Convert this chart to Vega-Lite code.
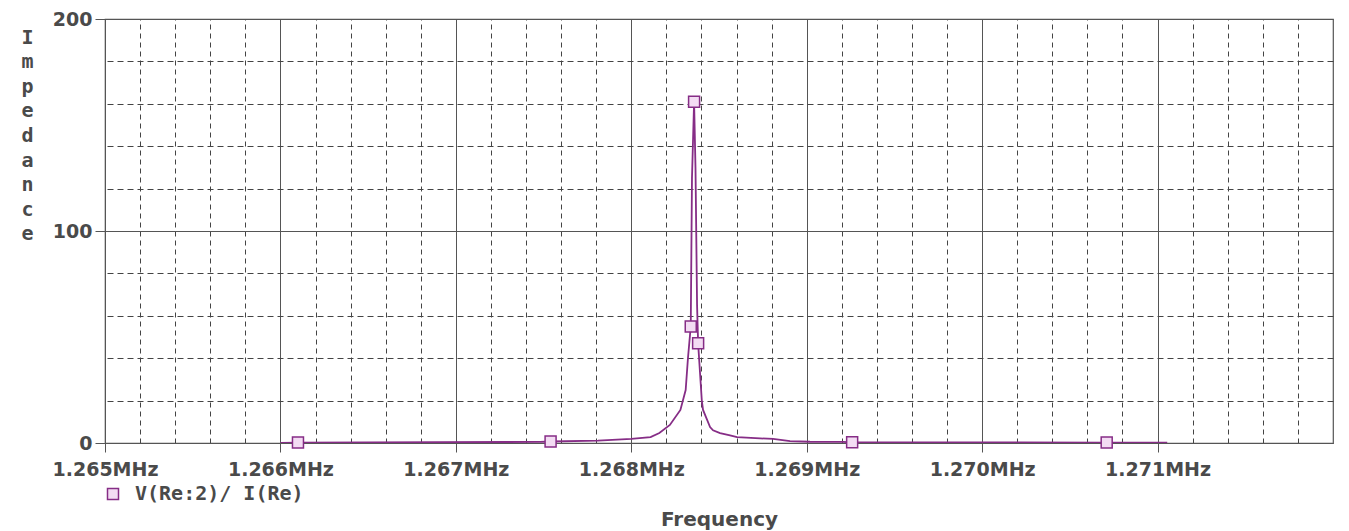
{
  "$schema": "https://vega.github.io/schema/vega-lite/v6.json",
  "width": 1228,
  "height": 424,
  "autosize": "none",
  "padding": {"left": 105, "top": 19, "right": 16, "bottom": 88},
  "background": "white",
  "config": {
    "view": {"stroke": "#555555", "strokeWidth": 1.2},
    "axis": {
      "labelFont": "DejaVu Sans",
      "labelFontWeight": "bold",
      "labelFontSize": 19,
      "labelColor": "#4a4a4a",
      "titleFont": "DejaVu Sans",
      "titleFontWeight": "bold",
      "titleFontSize": 20,
      "titleColor": "#4a4a4a",
      "tickColor": "#555555",
      "domain": false
    }
  },
  "datasets": {
    "trace": [
      {"f": 1.266, "z": 0.1},
      {"f": 1.2661, "z": 0.2},
      {"f": 1.26748, "z": 0.5},
      {"f": 1.26754, "z": 0.7},
      {"f": 1.26781, "z": 1.1},
      {"f": 1.268, "z": 1.9},
      {"f": 1.26811, "z": 2.8},
      {"f": 1.26816, "z": 4.7},
      {"f": 1.26822, "z": 8.5},
      {"f": 1.26828, "z": 15.6},
      {"f": 1.26831, "z": 25},
      {"f": 1.268323, "z": 40},
      {"f": 1.268339, "z": 55},
      {"f": 1.268346, "z": 125},
      {"f": 1.268358, "z": 161},
      {"f": 1.268366, "z": 130},
      {"f": 1.268375, "z": 65},
      {"f": 1.268381, "z": 47},
      {"f": 1.268402, "z": 20},
      {"f": 1.268409, "z": 15.6},
      {"f": 1.268449, "z": 7.5},
      {"f": 1.268466, "z": 6},
      {"f": 1.268506, "z": 4.7},
      {"f": 1.268563, "z": 3.6},
      {"f": 1.268603, "z": 2.8},
      {"f": 1.268734, "z": 2.2},
      {"f": 1.268808, "z": 1.9},
      {"f": 1.268905, "z": 0.9},
      {"f": 1.269019, "z": 0.6},
      {"f": 1.269208, "z": 0.5},
      {"f": 1.269259, "z": 0.3},
      {"f": 1.27071, "z": 0.2},
      {"f": 1.271055, "z": 0.2}
    ],
    "markers": [
      {"f": 1.2661, "z": 0.2, "series": "V(Re:2)/ I(Re)"},
      {"f": 1.26754, "z": 0.7, "series": "V(Re:2)/ I(Re)"},
      {"f": 1.268339, "z": 55, "series": "V(Re:2)/ I(Re)"},
      {"f": 1.268358, "z": 161, "series": "V(Re:2)/ I(Re)"},
      {"f": 1.268381, "z": 47, "series": "V(Re:2)/ I(Re)"},
      {"f": 1.269259, "z": 0.3, "series": "V(Re:2)/ I(Re)"},
      {"f": 1.27071, "z": 0.2, "series": "V(Re:2)/ I(Re)"}
    ]
  },
  "layer": [
    {
      "data": {"name": "trace"},
      "mark": {"type": "line", "color": "#862d86", "strokeWidth": 1.8, "clip": true},
      "encoding": {
        "x": {
          "field": "f", "type": "quantitative",
          "scale": {"domain": [1.265, 1.272], "nice": false, "zero": false},
          "axis": {
            "orient": "bottom",
            "values": [1.265, 1.266, 1.267, 1.268, 1.269, 1.27, 1.271],
            "labelExpr": "format(datum.value, '.3f') + 'MHz'",
            "tickSize": 9,
            "labelPadding": 8,
            "labelFlush": false,
            "labelOverlap": false,
            "grid": true,
            "gridColor": "#555555",
            "gridWidth": 1,
            "title": "Frequency",
            "titleY": 82,
            "titleBaseline": "alphabetic"
          }
        },
        "y": {
          "field": "z", "type": "quantitative",
          "scale": {"domain": [0, 200], "nice": false, "zero": true},
          "axis": {
            "orient": "left",
            "values": [0, 100, 200],
            "tickSize": 10,
            "labelPadding": 3,
            "labelFlush": false,
            "labelOverlap": false,
            "grid": true,
            "gridColor": "#555555",
            "gridWidth": 1,
            "title": ["I", "m", "p", "e", "d", "a", "n", "c", "e"],
            "titleAngle": 0,
            "titleAlign": "center",
            "titleBaseline": "top",
            "titleX": -78,
            "titleY": 8,
            "titleLineHeight": 24.6,
            "titleFont": "DejaVu Sans Mono",
            "titleFontSize": 20
          }
        }
      }
    },
    {
      "data": {"name": "markers"},
      "mark": {"type": "point", "shape": "square", "filled": true, "strokeWidth": 1.5, "size": 121, "opacity": 1},
      "encoding": {
        "x": {
          "field": "f", "type": "quantitative",
          "scale": {"domain": [1.265, 1.272], "nice": false, "zero": false},
          "axis": {
            "orient": "top",
            "values": [1.2652, 1.2654, 1.2656, 1.2658, 1.2662, 1.2664, 1.2666, 1.2668, 1.2672, 1.2674, 1.2676, 1.2678, 1.2682, 1.2684, 1.2686, 1.2688, 1.2692, 1.2694, 1.2696, 1.2698, 1.2702, 1.2704, 1.2706, 1.2708, 1.2712, 1.2714, 1.2716, 1.2718],
            "labels": false,
            "ticks": false,
            "grid": true,
            "gridColor": "#444444",
            "gridDash": [5, 4],
            "gridWidth": 1,
            "title": null
          }
        },
        "y": {
          "field": "z", "type": "quantitative",
          "scale": {"domain": [0, 200], "nice": false, "zero": true},
          "axis": {
            "orient": "right",
            "values": [20, 40, 60, 80, 120, 140, 160, 180],
            "labels": false,
            "ticks": false,
            "grid": true,
            "gridColor": "#444444",
            "gridDash": [6, 4],
            "gridWidth": 1,
            "title": null
          }
        },
        "fill": {"field": "series", "type": "nominal", "scale": {"range": ["#f3dcf3"]}},
        "stroke": {"field": "series", "type": "nominal", "scale": {"range": ["#862d86"]}},
        "shape": {
          "field": "series", "type": "nominal",
          "scale": {"range": ["square"]},
          "legend": {
            "orient": "none",
            "legendX": -2,
            "legendY": 465,
            "title": null,
            "labelFont": "DejaVu Sans Mono",
            "labelFontWeight": "bold",
            "labelFontSize": 20,
            "labelColor": "#4a4a4a",
            "labelLimit": 0,
            "labelOffset": 12,
            "symbolSize": 121,
            "symbolStrokeWidth": 1.5,
            "symbolType": "square",
            "padding": 0
          }
        }
      }
    }
  ],
  "resolve": {"axis": {"x": "independent", "y": "independent"}}
}
